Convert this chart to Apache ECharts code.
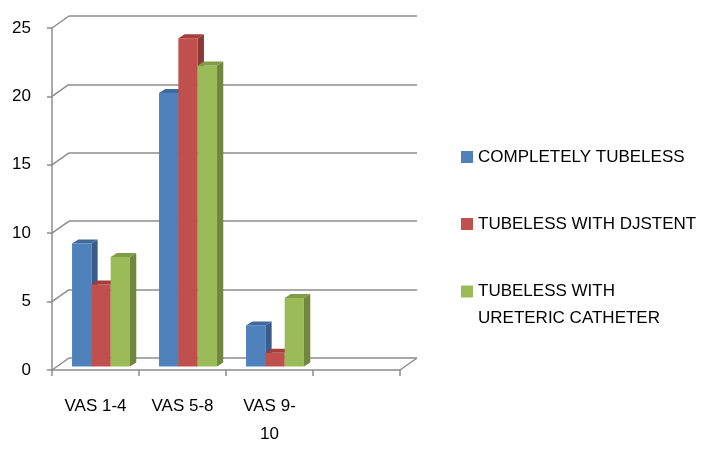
<!DOCTYPE html>
<html>
<head>
<meta charset="utf-8">
<script src="https://cdn.jsdelivr.net/npm/echarts@6/dist/echarts.min.js"></script>
<style>
  html, body { margin: 0; padding: 0; background: #fff; }
  #chart { width: 708px; height: 453px; }
</style>
</head>
<body>
<div id="chart"></div>
<script>
// data
var categories = ['VAS 1-4', 'VAS 5-8', 'VAS 9-\n10', ''];
var completelyTubeless = [9, 20, 3, null];
var withDjStent = [6, 24, 1, null];
var withCatheter = [8, 22, 5, null];
var yTicks = [0, 5, 10, 15, 20, 25];

var seriesNames = ['COMPLETELY TUBELESS', 'TUBELESS WITH DJSTENT', 'TUBELESS WITH\nURETERIC CATHETER'];
var seriesValues = [completelyTubeless, withDjStent, withCatheter];
// front, top, side
var palette = [
    ['#4F81BD', '#3F6A9E', '#385D8A'],
    ['#C0504D', '#A53E3B', '#8C3836'],
    ['#9BBB59', '#809C46', '#6F873E']
];

var lineColor = '#8c8c8c';
var font = 'Liberation Sans';
// offset of back wall from the front plane
var wallDx = 17, wallDy = -12;
// bars sit a bit behind the front plane and have some depth
var barDx = 5.5, barDy = -3.5, depthDx = 6.3, depthDy = -4;

function barRenderer(seriesIndex) {
    return function (params, api) {
        var v = api.value(1);
        if (v == null || isNaN(v)) {
            return;
        }
        var band = api.size([1, 0])[0];
        var w = band * 0.222;
        var c = api.coord([api.value(0), v]);
        var base = api.coord([api.value(0), 0]);
        var x = c[0] - 1.5 * w + seriesIndex * w + barDx;
        var top = c[1] + barDy;
        var bottom = base[1] + barDy;
        var col = palette[seriesIndex];
        return {
            type: 'group',
            children: [
                {
                    type: 'polygon',
                    shape: {points: [[x + w, top], [x + w + depthDx, top + depthDy], [x + w + depthDx, bottom + depthDy], [x + w, bottom]]},
                    style: {fill: col[2]}
                },
                {
                    type: 'rect',
                    shape: {x: x, y: top, width: w, height: bottom - top},
                    style: {fill: col[0]}
                },
                {
                    type: 'polygon',
                    shape: {points: [[x, top], [x + depthDx, top + depthDy], [x + w + depthDx, top + depthDy], [x + w, top]]},
                    style: {fill: col[1]}
                }
            ]
        };
    };
}

var chart = echarts.init(document.getElementById('chart'));

var series = [];

// diagonals from front y ticks to the back wall, and right floor edge
series.push({
    type: 'custom',
    xAxisIndex: 0,
    yAxisIndex: 0,
    silent: true,
    z: 1,
    data: yTicks.map(function (t) { return [0, t]; }),
    renderItem: function (params, api) {
        var cs = params.coordSys;
        var y = api.coord([0, api.value(1)])[1];
        var children = [{
            type: 'line',
            shape: {x1: cs.x, y1: y, x2: cs.x + wallDx, y2: y + wallDy},
            style: {stroke: lineColor, lineWidth: 1.5}
        }];
        if (api.value(1) === 0) {
            children.push({
                type: 'line',
                shape: {x1: cs.x + cs.width, y1: y, x2: cs.x + cs.width + wallDx, y2: y + wallDy},
                style: {stroke: lineColor, lineWidth: 1.5}
            });
        }
        return {type: 'group', children: children};
    }
});

seriesValues.forEach(function (vals, i) {
    series.push({
        name: seriesNames[i],
        type: 'custom',
        xAxisIndex: 0,
        yAxisIndex: 0,
        z: 5,
        itemStyle: {color: palette[i][0]},
        encode: {x: 0, y: 1},
        data: vals.map(function (v, k) { return [k, v]; }),
        renderItem: barRenderer(i)
    });
});

function legendFor(i, top, lineHeight, formatter) {
    var lg = {
        left: 461,
        top: top,
        padding: 0,
        orient: 'vertical',
        itemWidth: 12,
        itemHeight: 12,
        itemGap: 5,
        icon: 'rect',
        selectedMode: false,
        textStyle: {color: '#000', fontFamily: font, fontSize: 17, lineHeight: lineHeight},
        data: [seriesNames[i]]
    };
    if (formatter) {
        lg.formatter = formatter;
    }
    return lg;
}

chart.setOption({
    animation: false,
    backgroundColor: '#fff',
    legend: [
        legendFor(0, 147, 20),
        legendFor(1, 214, 20),
        // blank first line so the icon lines up with the first text line
        legendFor(2, 251, 27, function (name) { return ' \n' + name; })
    ],
    grid: [
        {left: 52, top: 28, width: 348, height: 342},
        {left: 52 + wallDx, top: 28 + wallDy, width: 348, height: 342}
    ],
    xAxis: [
        {
            gridIndex: 0,
            type: 'category',
            data: categories,
            boundaryGap: true,
            axisLine: {lineStyle: {color: lineColor, width: 1.5}},
            axisTick: {show: true, length: 6, lineStyle: {color: lineColor, width: 1.5}},
            axisLabel: {
                color: '#000', fontFamily: font, fontSize: 17, margin: 22, lineHeight: 28, interval: 0
            },
            splitLine: {show: false}
        },
        {
            gridIndex: 1,
            type: 'category',
            data: categories,
            show: false
        }
    ],
    yAxis: [
        {
            gridIndex: 0,
            type: 'value',
            min: 0,
            max: 25,
            interval: 5,
            axisLine: {show: true, lineStyle: {color: lineColor, width: 1.5}},
            axisTick: {show: true, length: 5, lineStyle: {color: lineColor, width: 1.5}},
            axisLabel: {color: '#000', fontFamily: font, fontSize: 17, margin: 21},
            splitLine: {show: false}
        },
        {
            gridIndex: 1,
            type: 'value',
            min: 0,
            max: 25,
            interval: 5,
            axisLine: {show: false},
            axisTick: {show: false},
            axisLabel: {show: false},
            splitLine: {show: true, lineStyle: {color: lineColor, width: 1.5}}
        }
    ],
    series: series
});
</script>
</body>
</html>
